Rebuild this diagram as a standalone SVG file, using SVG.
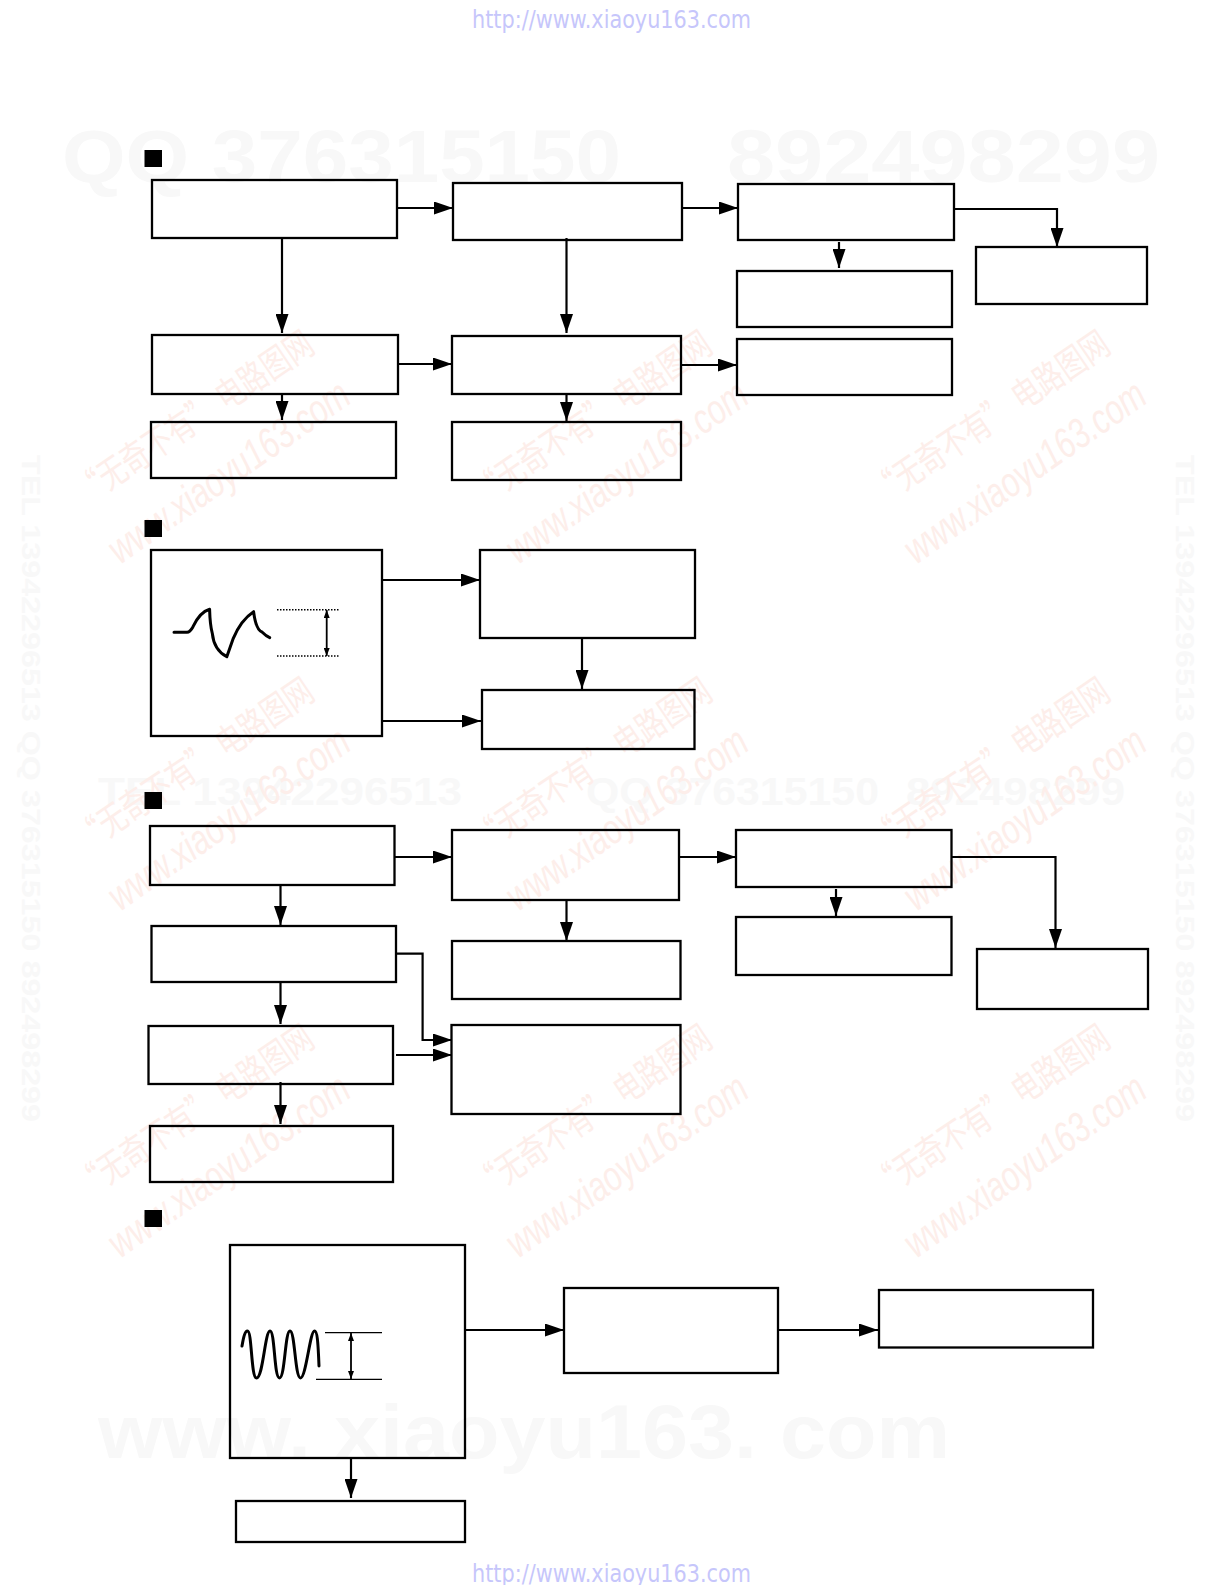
<svg xmlns="http://www.w3.org/2000/svg" width="1225" height="1585" viewBox="0 0 1225 1585">
<style>
.box{fill:none;stroke:#000;stroke-width:2.300}
.c{fill:none;stroke:#000;stroke-width:2.200}
.a{marker-end:url(#ah)}
.w{fill:none;stroke:#000;stroke-width:3;stroke-linejoin:round;stroke-linecap:round}
.sq{fill:#000}
.url{font-family:"DejaVu Sans",sans-serif;font-size:24px;fill:#c6c6fb}
.big{font-family:"Liberation Sans",sans-serif;font-weight:bold;fill:#f8f8f8}
.cn{font-family:"Noto Sans CJK SC",sans-serif;font-size:36px;fill:#fdeeea}
.en{font-family:"Liberation Sans",sans-serif;font-size:42px;fill:#fdeeea;font-style:italic}
</style>
<defs>
<marker id="ah" markerUnits="userSpaceOnUse" markerWidth="19" markerHeight="13" refX="19" refY="6.500" orient="auto"><path d="M0 0L19 6.500L0 13Z" fill="#000"/></marker>
<marker id="sm" markerUnits="userSpaceOnUse" markerWidth="8" markerHeight="6" refX="8" refY="3" orient="auto-start-reverse"><path d="M0 0L8 3L0 6Z" fill="#000"/></marker>
<g id="wm">
<text class="cn" transform="translate(86 506) rotate(-34)" textLength="278" lengthAdjust="spacingAndGlyphs">“无奇不有” 电路图网</text>
<text class="en" transform="translate(120 565) rotate(-35)" textLength="285" lengthAdjust="spacingAndGlyphs">www.xiaoyu163.com</text>
</g>
</defs>
<rect width="1225" height="1585" fill="#fff"/>
<g id="watermarks">
<text class="big" x="62" y="182" font-size="74" textLength="559" lengthAdjust="spacingAndGlyphs">QQ 376315150</text>
<text class="big" x="727" y="182" font-size="74" textLength="433" lengthAdjust="spacingAndGlyphs">892498299</text>
<text class="big" x="98" y="805" font-size="38" textLength="364" lengthAdjust="spacingAndGlyphs">TEL 13942296513</text>
<text class="big" x="586" y="805" font-size="38" textLength="293" lengthAdjust="spacingAndGlyphs">QQ 376315150</text>
<text class="big" x="906" y="805" font-size="38" textLength="219" lengthAdjust="spacingAndGlyphs">892498299</text>
<text class="big" x="98" y="1458" font-size="76" textLength="852" lengthAdjust="spacingAndGlyphs">www. xiaoyu163. com</text>
<text class="big" transform="translate(22 455) rotate(90)" font-size="26" textLength="667" lengthAdjust="spacingAndGlyphs">TEL 13942296513  QQ 376315150  892498299</text>
<text class="big" transform="translate(1176 455) rotate(90)" font-size="26" textLength="667" lengthAdjust="spacingAndGlyphs">TEL 13942296513  QQ 376315150  892498299</text>
<use href="#wm"/><use href="#wm" x="398"/><use href="#wm" x="796"/>
<use href="#wm" y="347"/><use href="#wm" x="398" y="347"/><use href="#wm" x="796" y="347"/>
<use href="#wm" y="694"/><use href="#wm" x="398" y="694"/><use href="#wm" x="796" y="694"/>
<text class="url" x="472" y="28" textLength="279" lengthAdjust="spacingAndGlyphs">http://www.xiaoyu163.com</text>
<text class="url" x="472" y="1582" textLength="279" lengthAdjust="spacingAndGlyphs">http://www.xiaoyu163.com</text>
</g>
<g id="markers">
<rect class="sq" x="144.500" y="150" width="17.500" height="17"/>
<rect class="sq" x="144.500" y="520" width="17.500" height="17"/>
<rect class="sq" x="144.500" y="792" width="17.500" height="17"/>
<rect class="sq" x="144.500" y="1210" width="17.500" height="17"/>
</g>
<g id="s1">
<rect id="s1a" class="box" x="152" y="180" width="245" height="58"/>
<rect id="s1b" class="box" x="453" y="183" width="229" height="57"/>
<rect id="s1c" class="box" x="738" y="184" width="216" height="56"/>
<rect id="s1d" class="box" x="976" y="247" width="171" height="57"/>
<rect id="s1e" class="box" x="737" y="271" width="215" height="56"/>
<rect id="s1f" class="box" x="152" y="335" width="246" height="59"/>
<rect id="s1g" class="box" x="452" y="336" width="229" height="58"/>
<rect id="s1h" class="box" x="737" y="339" width="215" height="56"/>
<rect id="s1i" class="box" x="151" y="422" width="245" height="56"/>
<rect id="s1j" class="box" x="452" y="422" width="229" height="58"/>
</g>
<g id="s2">
<rect id="s2k" class="box" x="151" y="550" width="231" height="186"/>
<rect id="s2l" class="box" x="480" y="550" width="215" height="88"/>
<rect id="s2m" class="box" x="482" y="690" width="212.500" height="59"/>
<path class="w" d="M174 632.300L187 632.300Q190 632.300 193 626.700Q200 612 209.600 609.300Q210 625 212.300 633.300Q214 650 226.800 656.700L233.300 638.300Q241 620 253.600 611.700Q256 630 262 632Q266 636 269.700 637.700"/>
<path d="M277 609.700H339M277 656H339" fill="none" stroke="#000" stroke-width="1.500" stroke-dasharray="1.500 1.500"/>
<path d="M326.700 610V656" fill="none" stroke="#000" stroke-width="1.800" marker-start="url(#sm)" marker-end="url(#sm)"/>
</g>
<g id="s3">
<rect id="s3a" class="box" x="150" y="826" width="244.500" height="59"/>
<rect id="s3b" class="box" x="452" y="830" width="227" height="70"/>
<rect id="s3c" class="box" x="736" y="830" width="215.500" height="57"/>
<rect id="s3d" class="box" x="977" y="949" width="171" height="60"/>
<rect id="s3e" class="box" x="736" y="917" width="215.500" height="58"/>
<rect id="s3f" class="box" x="151.500" y="926" width="244.500" height="56"/>
<rect id="s3g" class="box" x="148.500" y="1026" width="244.500" height="58"/>
<rect id="s3h" class="box" x="150" y="1126" width="243" height="56"/>
<rect id="s3i" class="box" x="452" y="941" width="228.500" height="58"/>
<rect id="s3j" class="box" x="451.500" y="1025" width="229" height="89"/>
</g>
<g id="s4">
<rect id="s4k" class="box" x="230" y="1245" width="235" height="213"/>
<rect id="s4b" class="box" x="236" y="1501" width="229" height="41"/>
<rect id="s4m" class="box" x="564" y="1288" width="214" height="85"/>
<rect id="s4r" class="box" x="879" y="1290" width="214" height="57.500"/>
<path class="w" d="M242 1346C243.500 1337 245 1331 247.500 1331C252 1331 251 1378 256.500 1378C263 1378 265 1331 270 1331C275 1331 274 1378 279.500 1378C285 1378 285 1331 290 1331C295 1331 295 1378 300.500 1378C306 1378 310 1331 314.500 1331C317 1331 318 1340 319 1366"/>
<path d="M325 1332.700H382M316 1379.300H382" fill="none" stroke="#000" stroke-width="1.200"/>
<path d="M351 1333V1379" fill="none" stroke="#000" stroke-width="1.800" marker-start="url(#sm)" marker-end="url(#sm)"/>
</g>
<g id="connectors">
<path class="c a" d="M397 208H453"/>
<path class="c a" d="M682 208H738"/>
<path class="c a" d="M954 209H1057V247"/>
<path class="c a" d="M839 242V268"/>
<path class="c a" d="M282 238V333"/>
<path class="c a" d="M566.500 238V333"/>
<path class="c a" d="M398 364H452"/>
<path class="c a" d="M681 365H737"/>
<path class="c a" d="M282 394V420"/>
<path class="c a" d="M566.500 394V421"/>
<path class="c a" d="M382 580H480"/>
<path class="c a" d="M382 721H481"/>
<path class="c a" d="M582 638V689"/>
<path class="c a" d="M394.500 857H452"/>
<path class="c a" d="M679 857H736"/>
<path class="c a" d="M951.500 857H1055.500V948"/>
<path class="c a" d="M836 889V916"/>
<path class="c a" d="M280.500 885V925"/>
<path class="c a" d="M566.500 900V941"/>
<path class="c a" d="M280.500 982V1024"/>
<path class="c a" d="M280.500 1082V1124"/>
<path class="c a" d="M396 953.700H422.600V1040H452"/>
<path class="c a" d="M396 1055H452"/>
<path class="c a" d="M465 1330H564"/>
<path class="c a" d="M778 1330H878"/>
<path class="c a" d="M351 1458V1498"/>
</g>
</svg>
